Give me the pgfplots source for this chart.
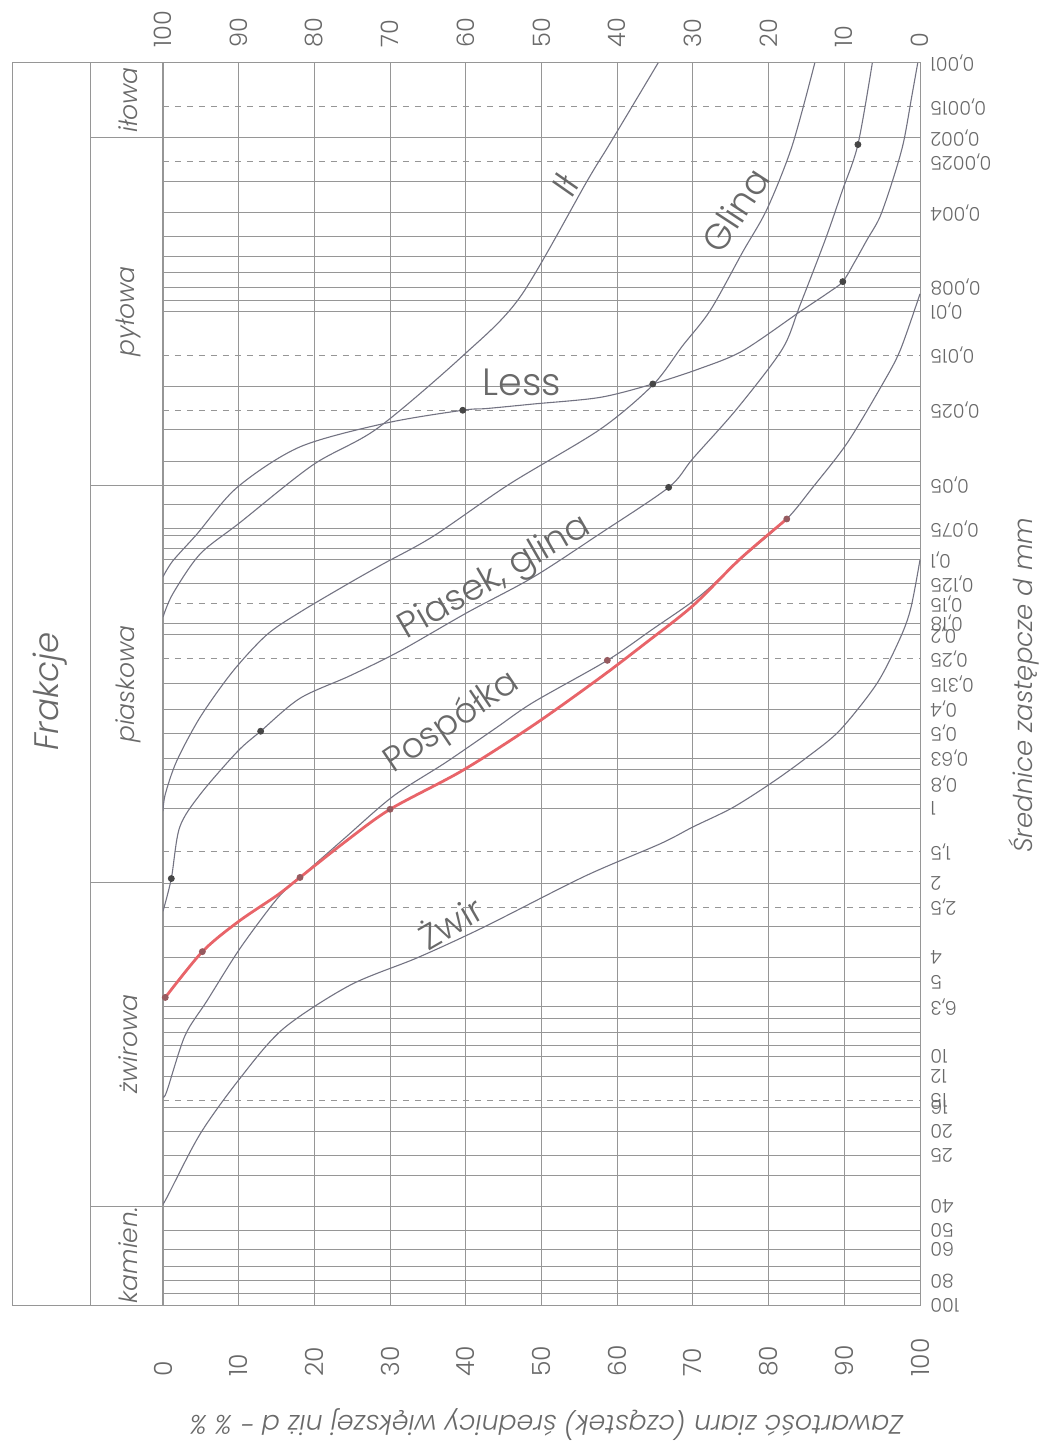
\documentclass[border=0pt]{standalone}
\usepackage{pgfplots}
\pgfplotsset{compat=1.18}
\usepackage{fontspec}
\setmainfont{Poppins}[UprightFont=* Light, ItalicFont=* Light Italic, BoldFont=* Medium]
\definecolor{gridc}{RGB}{150,150,150}
\definecolor{curvec}{RGB}{115,115,130}
\definecolor{txtc}{RGB}{105,105,105}
\definecolor{redc}{RGB}{232,100,105}
\definecolor{dotc}{RGB}{70,70,70}
\begin{document}
\begin{tikzpicture}
\path[use as bounding box] (-81.5pt,-73.5pt) rectangle (439pt,652.5pt);
\begin{axis}[
  at={(0pt,0pt)}, anchor=south west,
  scale only axis, width=378.5pt, height=621pt,
  xmin=0, xmax=100, ymode=log, ymin=0.001, ymax=100, y dir=reverse,
  clip=false,
  axis line style={gridc, line width=0.5pt},
  major tick length=0pt, minor tick length=0pt,
  xtick={0,10,...,100},
  xticklabels={0,10,20,30,40,50,60,70,80,90,100},
  xmajorgrids, major x grid style={gridc, line width=0.45pt},
  xticklabel style={inner sep=0pt, yshift=-36pt, rotate=90, anchor=west, font=\fontsize{12.5}{12.5}\selectfont, text=txtc},
  ytick={0.001,0.0015,0.002,0.0025,0.004,0.008,0.01,0.015,0.025,0.05,0.075,0.1,0.125,0.15,0.18,0.2,0.25,0.315,0.4,0.5,0.63,0.8,1,1.5,2,2.5,4,5,6.3,10,12,15,16,20,25,40,50,60,80,100},
  yticklabels={{0,001},{0,0015},{0,002},{0,0025},{0,004},{0,008},{0,01},{0,015},{0,025},{0,05},{0,075},{0,1},{0,125},{0,15},{0,18},{0,2},{0,25},{0,315},{0,4},{0,5},{0,63},{0,8},1,{1,5},2,{2,5},4,5,{6,3},10,12,15,16,20,25,40,50,60,80,100},
  yticklabel pos=right,
  yticklabel style={inner sep=0pt, xshift=5pt, rotate=180, anchor=east, font=\fontsize{9.5}{9.5}\selectfont, text=txtc},
  minor ytick={0.002,0.003,0.004,0.005,0.006,0.007,0.008,0.009,0.01,0.02,0.03,0.04,0.05,0.06,0.075,0.08,0.09,0.1,0.125,0.18,0.2,0.315,0.4,0.5,0.63,0.7,0.8,1,2,3,4,5,6.3,7,8,9,10,12,16,20,25,30,40,50,60,70,80,90},
  yminorgrids, minor y grid style={gridc, line width=0.45pt},
  extra y ticks={0.0015,0.0025,0.015,0.025,0.15,0.25,1.5,2.5,15},
  extra y tick labels={},
  extra y tick style={grid=major, major grid style={gridc, line width=0.45pt, dash pattern=on 3pt off 3pt}},
]
% Il
\addplot[curvec, line width=0.55pt, smooth] coordinates {
(65.4,0.001) (59.0,0.00212) (56.1,0.00296) (47.2,0.00873) (39.6,0.0151) (28.3,0.0296)
(19.8,0.0415) (10.2,0.0707) (4.9,0.0948) (1.3,0.137) (0,0.170)};
% Less
\addplot[curvec, line width=0.55pt, smooth] coordinates {
(99.7,0.001) (98.9,0.00137) (97.8,0.0021) (96.4,0.00296) (94.7,0.00417) (93.0,0.00515)
(91.4,0.0063) (89.8,0.00759) (87.9,0.0084) (84.2,0.0100) (76.6,0.0144) (70.9,0.0170)
(64.7,0.0196) (57.7,0.0222) (48.9,0.0236) (42.8,0.0246) (39.6,0.0250) (29.6,0.0281)
(18.1,0.0351) (9.8,0.0511) (4.5,0.0787) (1.3,0.101) (0,0.117)};
% Glina
\addplot[curvec, line width=0.55pt, smooth] coordinates {
(86.1,0.001) (83.1,0.00216) (79.8,0.00387) (76.6,0.00575) (72.3,0.0099) (68.6,0.0138)
(64.7,0.0198) (57.7,0.0299) (45.8,0.0495) (35.7,0.0804) (29.1,0.1038) (24.7,0.1236)
(18.1,0.1625) (13.7,0.2005) (9.2,0.2818) (4.9,0.4306) (1.8,0.647) (0.3,0.879) (0,1.028)};
% Piasek, glina
\addplot[curvec, line width=0.55pt, smooth] coordinates {
(93.7,0.001) (91.8,0.00213) (89.7,0.00329) (87.5,0.00513) (84.1,0.00953) (81.8,0.0142)
(75.8,0.0247) (70.0,0.0391) (66.8,0.0511) (57.7,0.0786) (48.9,0.1175) (40.2,0.163)
(31.3,0.233) (24.7,0.293) (18.1,0.361) (12.9,0.49) (9.8,0.593) (4.9,0.881)
(2.2,1.194) (1.1,1.92) (0,2.60)};
% Pospolka
\addplot[curvec, line width=0.55pt, smooth] coordinates {
(100,0.0085) (97.4,0.0143) (95.1,0.0195) (90.4,0.0338) (85.7,0.0517) (82.4,0.0685)
(76.9,0.0958) (70.9,0.140) (64.6,0.191) (58.7,0.254) (48.9,0.375) (44.0,0.475)
(37.3,0.656) (30.4,0.895) (24.0,1.32) (18.1,1.90) (15.1,2.31) (10.2,3.66)
(5.8,5.97) (2.9,8.24) (0.5,13.8) (0,14.5)};
% Zwir
\addplot[curvec, line width=0.55pt, smooth] coordinates {
(100,0.1) (98.8,0.156) (97.4,0.206) (94.3,0.315) (89.4,0.486) (85.1,0.623) (80.6,0.783)
(75.3,0.993) (70.0,1.19) (65.7,1.39) (55.7,1.88) (42.3,3.02) (33.6,4.00) (24.7,5.16)
(15.9,7.72) (10.2,12.2) (4.9,20.5) (0.5,37.0) (0,39)};
% measured sample (red)
\addplot[redc, line width=1.4pt, smooth] coordinates {
(82.4,0.0685) (76.2,0.0994) (70.0,0.153) (63.7,0.217) (57.7,0.299) (48.9,0.464)
(39.5,0.707) (30.0,1.01) (24.0,1.37) (18.1,1.90) (15.1,2.24) (9.9,2.87)
(5.2,3.78) (0.3,5.78)};
% dots
\addplot[only marks, mark=*, mark size=1.5pt, dotc] coordinates {
(91.8,0.00213) (66.8,0.0511) (12.9,0.49) (1.1,1.92)
(89.8,0.00759) (64.7,0.0196) (39.6,0.0250)};
\addplot[only marks, mark=*, mark size=1.5pt, color={rgb,255:red,150;green,90;blue,95}] coordinates {
(82.4,0.0685) (58.7,0.254) (30.0,1.01) (18.1,1.90) (5.2,3.78) (0.3,5.78)};
% fraction column
\draw[gridc, line width=0.5pt] (axis cs:-19.9,0.001) rectangle (axis cs:0,100);
\draw[gridc, line width=0.5pt] (axis cs:-9.6,0.001) -- (axis cs:-9.6,100);
\draw[gridc, line width=0.5pt] (axis cs:-9.6,0.002) -- (axis cs:0,0.002);
\draw[gridc, line width=0.5pt] (axis cs:-9.6,0.05) -- (axis cs:0,0.05);
\draw[gridc, line width=0.5pt] (axis cs:-9.6,2) -- (axis cs:0,2);
\draw[gridc, line width=0.5pt] (axis cs:-9.6,40) -- (axis cs:0,40);
\node[rotate=90, text=txtc, font=\itshape\fontsize{12.5}{12.5}\selectfont] at (axis cs:-4.6,0.00141) {iłowa};
\node[rotate=90, text=txtc, font=\itshape\fontsize{12.5}{12.5}\selectfont] at (axis cs:-4.6,0.01) {pyłowa};
\node[rotate=90, text=txtc, font=\itshape\fontsize{12.5}{12.5}\selectfont] at (axis cs:-4.6,0.316) {piaskowa};
\node[rotate=90, text=txtc, font=\itshape\fontsize{12.5}{12.5}\selectfont] at (axis cs:-4.6,8.9) {żwirowa};
\node[rotate=90, text=txtc, font=\itshape\fontsize{12.5}{12.5}\selectfont] at (axis cs:-4.6,63) {kamien.};
\node[rotate=90, text=txtc, font=\itshape\fontsize{17}{17}\selectfont] at (axis cs:-14.9,0.34) {Frakcje};
% curve labels
\node[rotate=55, text=txtc, font=\fontsize{18}{18}\selectfont] at (axis cs:53.1,0.0031) {Ił};
\node[rotate=57, text=txtc, font=\fontsize{18}{18}\selectfont] at (axis cs:75.6,0.0039) {Glina};
\node[text=txtc, font=\fontsize{19}{19}\selectfont] at (axis cs:47.4,0.0193) {Less};
\node[rotate=30, text=txtc, font=\fontsize{18}{18}\selectfont] at (axis cs:43.9,0.119) {Piasek, glina};
\node[rotate=34, text=txtc, font=\fontsize{17.5}{17.5}\selectfont] at (axis cs:38.2,0.454) {Pospółka};
\node[rotate=30, text=txtc, font=\fontsize{17.5}{17.5}\selectfont] at (axis cs:37.9,2.86) {Żwir};
% axis titles
\node[rotate=180, text=txtc, font=\itshape\fontsize{13.4}{13.4}\selectfont] at ([yshift=-60pt]axis cs:50.7,100) {Zawartość ziarn (cząstek) średnicy większej niż d - \% \%};
\node[rotate=90, text=txtc, font=\itshape\fontsize{13}{13}\selectfont] at ([xshift=52pt]axis cs:100,0.32) {Średnice zastępcze d mm};
\end{axis}
\begin{axis}[
  at={(0pt,0pt)}, anchor=south west,
  scale only axis, width=378.5pt, height=621pt,
  xmin=0, xmax=100, x dir=reverse, ymin=0, ymax=1,
  axis x line*=top, axis line style={draw=none}, hide y axis,
  major tick length=0pt,
  xtick={0,10,...,100},
  xticklabels={0,10,20,30,40,50,60,70,80,90,100},
  xticklabel style={inner sep=0pt, yshift=7.5pt, rotate=90, anchor=west, font=\fontsize{12}{12}\selectfont, text=txtc},
]
\end{axis}
\end{tikzpicture}
\end{document}
